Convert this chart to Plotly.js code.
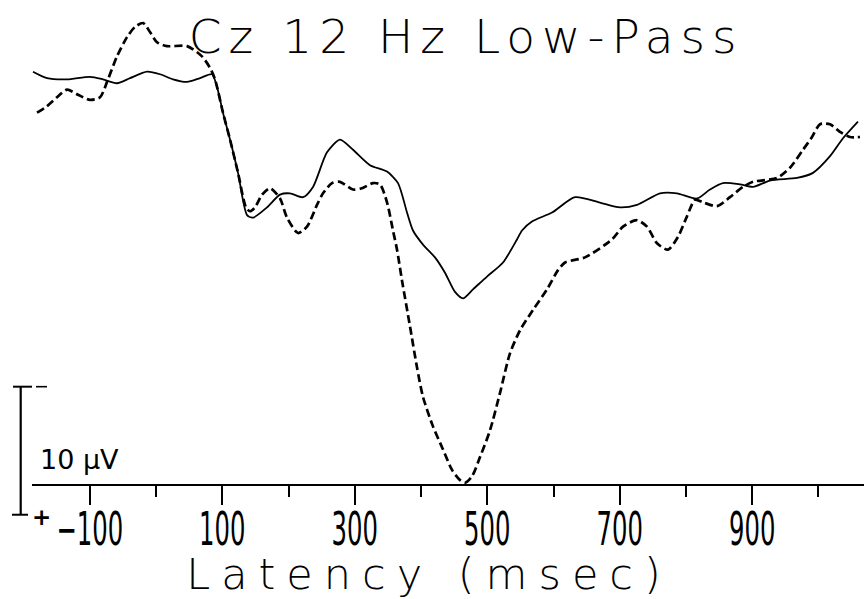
<!DOCTYPE html>
<html><head><meta charset="utf-8">
<script src="https://cdn.plot.ly/plotly-3.0.1.min.js"></script>
<style>html,body{margin:0;padding:0;background:#fff}</style>
</head><body><div id="chart" style="width:864px;height:599px"></div>
<script>
// Latency in ms, amplitude in µV (negative plotted upward)
const latencySolid = [-185.7,-164.5,-134.3,-99.6,-80.0,-58.9,-39.2,-13.6,6.0,25.7,46.8,66.4,84.5,92.1,101.1,111.7,123.8,137.4,146.4,167.5,187.2,202.3,221.9,237.0,258.1,277.7,297.4,323.0,348.7,365.3,378.9,387.9,403.0,421.1,436.2,451.3,463.4,478.5,499.6,523.8,544.9,552.5,567.5,597.7,632.5,668.7,700.4,726.0,760.8,786.4,816.6,836.2,855.8,881.5,901.1,926.8,967.5,991.7,1017.4,1037.0,1059.6];
const amplitudeSolid = [-32.2,-31.7,-31.6,-31.8,-31.6,-31.3,-31.7,-32.2,-32.0,-31.6,-31.4,-31.7,-32.0,-31.0,-29.0,-26.9,-24.3,-21.0,-20.8,-21.6,-22.6,-22.7,-22.4,-23.2,-25.9,-26.9,-26.1,-24.9,-24.4,-23.5,-21.2,-19.8,-18.7,-17.7,-16.5,-15.0,-14.5,-15.2,-16.2,-17.3,-19.1,-19.8,-20.5,-21.2,-22.4,-22.0,-21.6,-21.8,-22.7,-22.7,-22.3,-23.0,-23.5,-23.4,-23.2,-23.7,-23.9,-24.3,-25.6,-27.0,-28.3];
const latencyDashed = [-179.6,-164.5,-149.4,-134.3,-117.7,-99.6,-84.5,-72.5,-58.9,-43.8,-31.7,-19.6,-9.1,1.5,16.6,46.8,69.4,81.5,89.1,101.1,111.7,123.8,135.8,141.9,149.4,160.0,172.1,187.2,197.7,214.3,227.9,243.0,252.1,265.7,277.7,297.4,310.9,327.5,338.1,348.7,357.7,363.8,371.3,383.4,394.0,403.0,418.1,433.2,446.8,458.9,466.4,477.0,489.1,504.2,519.2,534.3,549.4,569.1,590.2,606.8,617.4,647.5,688.3,704.9,726.0,741.1,756.2,772.8,787.9,801.5,813.6,825.7,846.8,866.4,886.0,901.1,937.4,957.0,976.6,990.2,1002.3,1017.4,1032.5,1047.5,1062.6];
const amplitudeDashed = [-29.0,-29.5,-30.2,-30.8,-30.4,-30.0,-30.2,-31.6,-33.4,-34.9,-35.7,-36.0,-35.3,-34.5,-34.2,-34.2,-33.4,-32.5,-31.6,-29.0,-26.9,-24.3,-21.6,-21.3,-21.6,-22.6,-23.1,-22.3,-20.8,-19.6,-20.1,-21.8,-22.7,-23.5,-23.6,-23.0,-23.1,-23.5,-23.4,-22.0,-19.8,-18.3,-15.9,-12.3,-9.1,-6.8,-4.5,-2.7,-1.1,-0.3,-0.1,-0.6,-2.1,-4.2,-7.1,-10.2,-12.0,-13.6,-15.2,-16.7,-17.3,-17.7,-19.1,-20.1,-20.6,-20.1,-18.8,-18.3,-19.3,-20.9,-22.2,-22.0,-21.7,-22.4,-23.2,-23.6,-23.9,-24.7,-26.1,-27.1,-28.1,-28.1,-27.5,-27.1,-27.1];
const majorTicks = [-100,100,300,500,700,900];
const minorTicks = [0,200,400,600,800,1000];
const xRange = [-187.2, 1068.7];
const yRange = [0, -37.8];
const scaleBarTop = -7.6;      // µV
const scaleBarSize = 10;       // µV

const W = 864, H = 599, M = {l:32, r:0, t:0, b:115};
function py(v){ return (v - yRange[0]) / (yRange[1] - yRange[0]); }
function pxPaper(px){ return (px - M.l) / (W - M.l - M.r); }

const barTop = py(scaleBarTop), barBot = py(scaleBarTop + scaleBarSize);
const ink = '#000';
const thinFont = 'DejaVu Sans ExtraLight, DejaVu Sans';
const shapes = [
  {type:'line', xref:'paper', yref:'paper', x0:pxPaper(20.7), x1:pxPaper(20.7), y0:barBot, y1:barTop, line:{color:ink, width:2.2}},
  {type:'line', xref:'paper', yref:'paper', x0:pxPaper(13), x1:pxPaper(32), y0:barTop, y1:barTop, line:{color:ink, width:2}},
  {type:'line', xref:'paper', yref:'paper', x0:pxPaper(36), x1:pxPaper(47), y0:barTop, y1:barTop, line:{color:ink, width:1.6}},
  {type:'line', xref:'paper', yref:'paper', x0:pxPaper(12), x1:pxPaper(28), y0:barBot, y1:barBot, line:{color:ink, width:2}}
];

const traces = [
  {x: latencySolid, y: amplitudeSolid, type:'scatter', mode:'lines', line:{color:ink, width:1.8, shape:'spline', smoothing:0.7}, hoverinfo:'skip'},
  {x: latencyDashed, y: amplitudeDashed, type:'scatter', mode:'lines', line:{color:ink, width:2.7, dash:'8px,4px', shape:'spline', smoothing:0.7}, hoverinfo:'skip'}
];

const layout = {
  width: W, height: H, margin: M, showlegend:false,
  paper_bgcolor:'#fff', plot_bgcolor:'#fff',
  title: {text:'<span style="letter-spacing:7px">Cz 12 Hz Low-Pass</span>', x:0.5395, xanchor:'center', y:1-37/H, yanchor:'middle',
          font:{family:thinFont, size:47, color:ink, weight:200}},
  xaxis: {range:xRange, showgrid:false, zeroline:false, showline:true, linecolor:ink, linewidth:2,
          ticks:'outside', tickmode:'array', tickvals:majorTicks, ticklen:19, tickwidth:2, tickcolor:ink,
          minor:{tickmode:'array', tickvals:minorTicks, ticks:'outside', ticklen:11, tickwidth:2, tickcolor:ink},
          tickfont:{family:'DejaVu Sans', size:38, color:ink}, ticklabelstandoff:-6,
          title:{text:'<span style="letter-spacing:11px">Latency (msec)</span>', font:{family:thinFont, size:43, color:ink, weight:200}, standoff:9}},
  yaxis: {range:yRange, visible:false, showgrid:false, zeroline:false},
  shapes: shapes,
  annotations: [
    {text:'10 µV', xref:'paper', yref:'paper', x:pxPaper(79), y:py(-1.95), showarrow:false, xanchor:'center', yanchor:'middle', font:{family:'DejaVu Sans', size:27, color:ink}},
    {text:'+', xref:'paper', yref:'paper', x:pxPaper(41), y:py(2.55), showarrow:false, xanchor:'center', yanchor:'middle', font:{family:'DejaVu Sans', size:23, color:ink, weight:700}}
  ]
};

function squeeze(){
  document.querySelectorAll('#chart .xtick text').forEach(t=>{
    if(t.getAttribute('data-sq')) return;
    t.setAttribute('data-sq','1');
    const x = parseFloat(t.getAttribute('x'))||0;
    const y = parseFloat(t.getAttribute('y'))||0;
    const tr = t.getAttribute('transform')||'';
    t.setAttribute('transform', tr + ' translate(' + x + ',' + y + ') scale(0.64,1.2) translate(' + (-x) + ',' + (-y) + ')');
  });
  const xt = document.querySelector('#chart .g-xtitle text');
  if(xt && !xt.getAttribute('data-sq')){
    xt.setAttribute('data-sq','1');
    xt.setAttribute('transform', (xt.getAttribute('transform')||'') + ' translate(-19,0)');
  }
}
Plotly.newPlot('chart', traces, layout, {staticPlot:true, displayModeBar:false}).then(squeeze);
</script></body></html>
